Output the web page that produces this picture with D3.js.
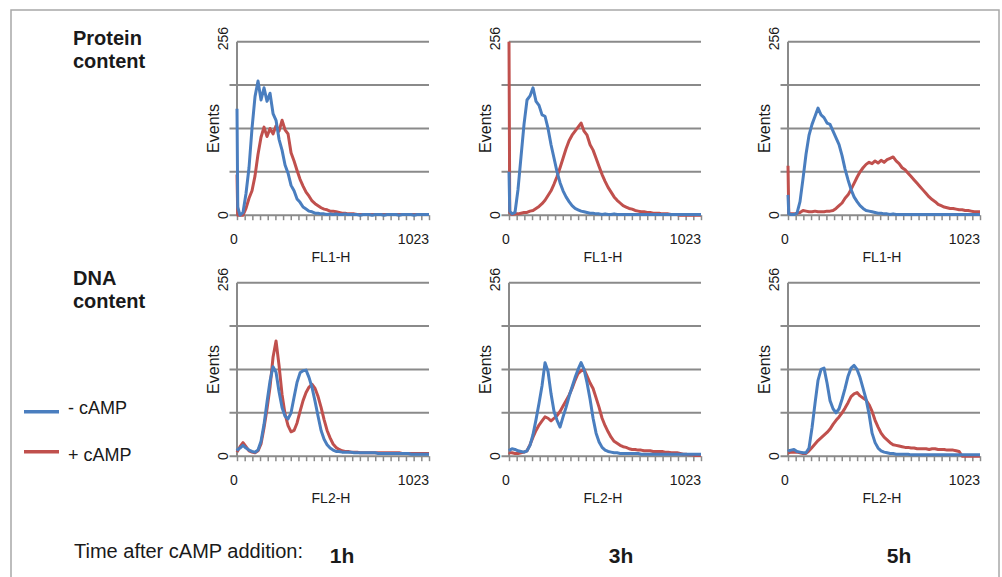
<!DOCTYPE html>
<html>
<head>
<meta charset="utf-8">
<script src="https://cdn.jsdelivr.net/npm/d3@7"></script>
<style>
  body { margin: 0; background: #fff; }
  text { font-family: "Liberation Sans", Arial, sans-serif; fill: #1a1a1a; }
</style>
</head>
<body>
<div id="chart"></div>
<script>
// FACS channels (x positions of the histogram readings)
var channels = [0, 4, 16, 32, 48, 64, 80, 96, 112, 128, 144, 160, 176, 192, 208, 224, 240, 256, 272, 288,
  304, 320, 336, 352, 368, 384, 400, 416, 432, 448, 464, 480, 496, 512, 528, 544, 560, 576, 592, 608,
  624, 640, 656, 672, 688, 704, 720, 736, 752, 768, 784, 800, 816, 832, 848, 864, 880, 896, 912, 928,
  944, 960, 976, 992, 1008, 1023];

// Protein content (FL1-H), events per channel
var protein1hMinus = [157, 12, 0, 4, 32, 70, 128, 175, 198, 170, 188, 168, 180, 150, 140, 112, 96, 74, 62, 44,
  36, 24, 19, 12, 9, 6, 5, 3, 3, 2, 2, 1, 2, 1, 2, 1, 1, 2, 1, 1,
  1, 1, 0, 1, 1, 1, 0, 1, 1, 1, 0, 1, 1, 1, 1, 0, 1, 1, 1, 1,
  0, 1, 1, 1, 1, 1];
var protein1hPlus = [60, 0, 0, 0, 10, 25, 36, 58, 90, 115, 130, 116, 128, 120, 132, 124, 140, 126, 120, 92,
  80, 66, 53, 43, 34, 28, 21, 17, 14, 11, 9, 8, 6, 6, 5, 4, 3, 3, 2, 2,
  2, 1, 1, 1, 1, 1, 1, 1, 1, 1, 1, 1, 1, 1, 1, 1, 1, 1, 1, 1,
  1, 1, 1, 1, 1, 1];
var protein3hMinus = [64, 6, 2, 4, 38, 86, 134, 170, 176, 188, 168, 162, 148, 146, 128, 104, 84, 64, 48, 36,
  27, 20, 14, 10, 8, 6, 5, 4, 3, 3, 2, 2, 1, 2, 1, 1, 2, 1, 1, 1,
  1, 1, 1, 1, 1, 1, 1, 1, 1, 1, 1, 1, 1, 1, 1, 1, 1, 1, 1, 1,
  1, 1, 1, 1, 1, 1];
var protein3hPlus = [256, 4, 1, 2, 2, 3, 4, 4, 6, 7, 10, 13, 17, 22, 29, 36, 46, 57, 70, 84,
  98, 110, 118, 124, 130, 136, 124, 118, 104, 96, 84, 72, 60, 50, 41, 34, 27, 22, 18, 14,
  12, 10, 9, 7, 6, 5, 5, 4, 4, 3, 3, 3, 2, 2, 2, 1, 1, 1, 0, 0,
  0, 0, 0, 0, 0, 0];
var protein5hMinus = [30, 2, 1, 1, 3, 20, 54, 90, 118, 134, 146, 158, 148, 144, 136, 134, 124, 114, 104, 88,
  68, 52, 38, 27, 20, 14, 10, 7, 6, 5, 4, 3, 3, 2, 2, 1, 2, 1, 1, 1,
  1, 1, 1, 1, 1, 1, 1, 1, 1, 1, 1, 1, 1, 1, 1, 1, 1, 1, 1, 1,
  1, 1, 1, 1, 1, 1];
var protein5hPlus = [73, 3, 2, 2, 3, 4, 7, 6, 5, 5, 6, 5, 5, 5, 6, 6, 7, 10, 14, 18,
  25, 30, 38, 47, 56, 64, 70, 75, 78, 76, 80, 77, 81, 78, 82, 84, 86, 80, 76, 70,
  67, 62, 57, 52, 47, 42, 37, 32, 27, 23, 20, 16, 14, 12, 11, 10, 10, 9, 8, 8,
  7, 7, 6, 5, 5, 5];

// DNA content (FL2-H), events per channel
var dna1hMinus = [8, 10, 12, 16, 12, 9, 7, 6, 9, 22, 47, 80, 111, 132, 124, 95, 72, 59, 55, 64,
  87, 109, 123, 126, 127, 116, 101, 81, 59, 38, 25, 17, 12, 9, 7, 7, 6, 6, 6, 6,
  5, 5, 5, 5, 5, 5, 5, 5, 4, 4, 4, 4, 4, 4, 4, 4, 4, 4, 4, 3,
  3, 3, 3, 3, 3, 3];
var dna1hPlus = [6, 8, 14, 20, 14, 8, 6, 5, 8, 18, 42, 70, 102, 146, 170, 134, 91, 62, 45, 36,
  38, 49, 66, 82, 94, 102, 106, 100, 88, 72, 54, 38, 27, 18, 13, 10, 8, 7, 7, 6,
  6, 6, 5, 5, 5, 5, 5, 5, 5, 5, 5, 5, 5, 5, 5, 5, 4, 4, 4, 4,
  4, 4, 4, 4, 4, 4];
var dna3hMinus = [8, 9, 11, 10, 8, 7, 6, 8, 16, 32, 54, 78, 104, 138, 125, 92, 66, 53, 43, 58,
  72, 88, 102, 116, 128, 138, 128, 108, 84, 56, 34, 21, 13, 9, 7, 6, 5, 5, 4, 4,
  4, 4, 4, 4, 4, 3, 3, 3, 3, 3, 3, 3, 3, 3, 3, 3, 3, 3, 3, 3,
  3, 3, 3, 3, 3, 3];
var dna3hPlus = [6, 5, 5, 4, 4, 5, 6, 8, 17, 28, 38, 46, 52, 58, 56, 52, 56, 60, 66, 74,
  82, 90, 100, 112, 122, 126, 128, 118, 108, 100, 86, 72, 56, 45, 36, 28, 22, 19, 16, 14,
  13, 11, 10, 10, 9, 9, 8, 8, 8, 7, 7, 7, 7, 6, 6, 5, 5, 5, 4, 3,
  3, 2, 2, 1, 1, 1];
var dna5hMinus = [7, 8, 9, 10, 7, 6, 5, 5, 12, 42, 78, 112, 128, 130, 108, 82, 70, 64, 70, 84,
  100, 118, 130, 134, 128, 116, 100, 84, 62, 34, 20, 12, 8, 6, 5, 4, 4, 3, 3, 3,
  3, 3, 2, 2, 2, 2, 2, 2, 2, 2, 2, 2, 2, 2, 2, 2, 2, 2, 2, 2,
  2, 2, 2, 2, 2, 2];
var dna5hPlus = [5, 5, 6, 6, 6, 5, 4, 4, 8, 13, 18, 23, 27, 31, 35, 40, 47, 53, 58, 64,
  71, 79, 88, 92, 94, 89, 86, 83, 76, 66, 53, 43, 34, 28, 24, 20, 17, 16, 15, 14,
  13, 13, 12, 12, 11, 11, 11, 11, 10, 11, 11, 10, 10, 10, 9, 9, 9, 8, 7, 0,
  0, 0, 0, 0, 0, 0];

var timeLabels = ["1h", "3h", "5h"];
var rowLabels = [["Protein", "content"], ["DNA", "content"]];
var xAxisLabels = ["FL1-H", "FL2-H"];
var yTickValues = [0, 64, 128, 192, 256];
var legendLabels = ["- cAMP", "+ cAMP"];

var blue = "#4a7ebf";
var red = "#c0504d";
var gridColor = "#8a8a8a";

var width = 1002;
var height = 577;

var svg = d3.select("#chart")
    .append("svg")
    .attr("width", width)
    .attr("height", height);

// outer frame
svg.append("rect")
    .attr("x", 11)
    .attr("y", 10)
    .attr("width", 988)
    .attr("height", 600)
    .attr("fill", "none")
    .attr("stroke", "#a8a8a8")
    .attr("stroke-width", 1.5);

var panelX = [237, 509, 788];
var rowTop = [41.7, 282.7];
var plotW = 192;
var plotH = 173.5;

var rows = [
    [[protein1hMinus, protein1hPlus], [protein3hMinus, protein3hPlus], [protein5hMinus, protein5hPlus]],
    [[dna1hMinus, dna1hPlus], [dna3hMinus, dna3hPlus], [dna5hMinus, dna5hPlus]]
];

var x = d3.scaleLinear().domain([0, 1023]).range([0, plotW]);
var y = d3.scaleLinear().domain([0, 256]).range([plotH, 0]);

var line = d3.line()
    .x(function(d, i) { return x(channels[i]); })
    .y(function(d) { return y(d); });

rows.forEach(function(row, r) {
    row.forEach(function(series, c) {
        var g = svg.append("g")
            .attr("transform", "translate(" + panelX[c] + "," + rowTop[r] + ")");

        // horizontal grid lines
        g.selectAll(".grid")
            .data(yTickValues)
            .enter().append("line")
            .attr("x1", function(d) { return d === 256 ? 0 : -7.5; })
            .attr("x2", plotW)
            .attr("y1", function(d) { return y(d); })
            .attr("y2", function(d) { return y(d); })
            .attr("stroke", gridColor)
            .attr("stroke-width", 2);

        // y axis line
        g.append("line")
            .attr("x1", 0).attr("x2", 0)
            .attr("y1", 0).attr("y2", plotH)
            .attr("stroke", gridColor)
            .attr("stroke-width", 2);

        // small x ticks
        var xAxis = d3.axisBottom(x)
            .tickValues(d3.range(0, 26).map(function(i) { return i * 1023 / 25; }))
            .tickSize(5)
            .tickFormat("");
        var ax = g.append("g")
            .attr("transform", "translate(0," + plotH + ")")
            .call(xAxis);
        ax.select(".domain").remove();
        ax.selectAll("line").attr("stroke", gridColor).attr("stroke-width", 1.5);

        // histograms: + cAMP under, - cAMP on top
        g.append("path")
            .datum(series[1])
            .attr("d", line)
            .attr("fill", "none")
            .attr("stroke", red)
            .attr("stroke-width", 3)
            .attr("stroke-linejoin", "round");
        g.append("path")
            .datum(series[0])
            .attr("d", line)
            .attr("fill", "none")
            .attr("stroke", blue)
            .attr("stroke-width", 3)
            .attr("stroke-linejoin", "round");

        // axis texts
        g.append("text")
            .attr("transform", "translate(-14," + (y(256) - 3) + ") rotate(-90)")
            .attr("text-anchor", "middle")
            .attr("dy", "0.35em")
            .style("font-size", "14px")
            .text("256");
        g.append("text")
            .attr("transform", "translate(-14," + y(0) + ") rotate(-90)")
            .attr("text-anchor", "middle")
            .attr("dy", "0.35em")
            .style("font-size", "14px")
            .text("0");
        g.append("text")
            .attr("transform", "translate(-24," + y(128) + ") rotate(-90)")
            .attr("text-anchor", "middle")
            .attr("dy", "0.35em")
            .style("font-size", "16px")
            .text("Events");
        g.append("text")
            .attr("x", -3)
            .attr("y", plotH + 29)
            .attr("text-anchor", "middle")
            .style("font-size", "14px")
            .text("0");
        g.append("text")
            .attr("x", plotW)
            .attr("y", plotH + 29)
            .attr("text-anchor", "end")
            .style("font-size", "14px")
            .text("1023");
        g.append("text")
            .attr("x", plotW / 2 - 2)
            .attr("y", plotH + 47)
            .attr("text-anchor", "middle")
            .style("font-size", "14px")
            .text(xAxisLabels[r]);
    });
});

// row labels
var rowBase = [[45, 68], [285, 308]];
rowLabels.forEach(function(lines, r) {
    lines.forEach(function(t, k) {
        svg.append("text")
            .attr("x", 73)
            .attr("y", rowBase[r][k])
            .style("font-size", "20px")
            .style("font-weight", "bold")
            .text(t);
    });
});

// legend
var legendY = [411.7, 451.7];
var legendTextY = [414, 461];
[blue, red].forEach(function(col, i) {
    svg.append("line")
        .attr("x1", 24).attr("x2", 59)
        .attr("y1", legendY[i]).attr("y2", legendY[i])
        .attr("stroke", col)
        .attr("stroke-width", 3.5);
    svg.append("text")
        .attr("x", 68)
        .attr("y", legendTextY[i])
        .style("font-size", "18px")
        .text(legendLabels[i]);
});

// bottom labels
svg.append("text")
    .attr("x", 74)
    .attr("y", 558)
    .style("font-size", "20px")
    .text("Time after cAMP addition:");

var timeX = [342, 621, 899];
timeLabels.forEach(function(t, i) {
    svg.append("text")
        .attr("x", timeX[i])
        .attr("y", 563)
        .attr("text-anchor", "middle")
        .style("font-size", "21px")
        .style("font-weight", "bold")
        .text(t);
});
</script>
</body>
</html>
